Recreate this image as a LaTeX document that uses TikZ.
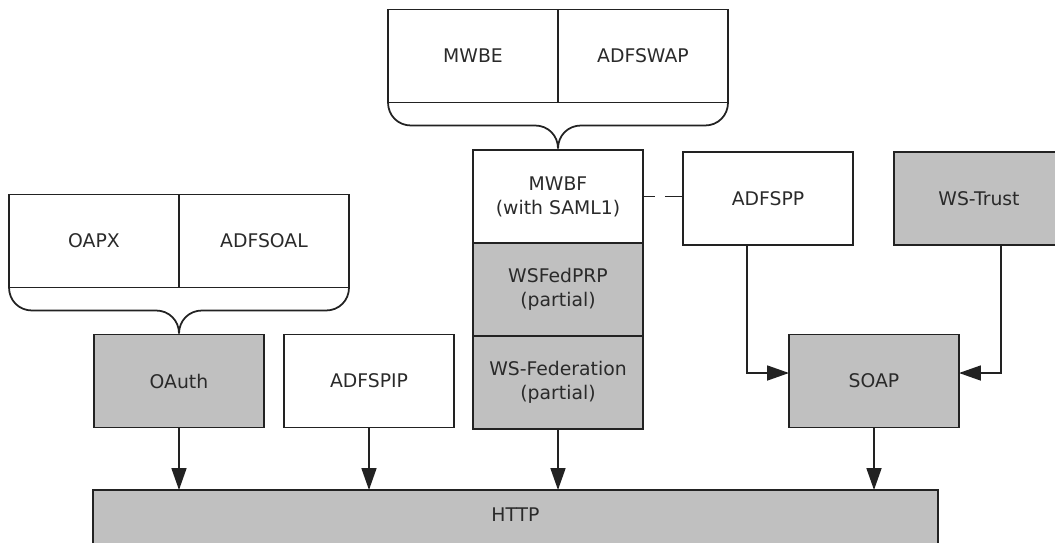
\documentclass[tikz,border=0pt]{standalone}
\usepackage{fontspec}
\setmainfont{DejaVu Sans}
\usepackage{tikz}
\usetikzlibrary{positioning, arrows.meta}
\usepackage{xcolor}

\definecolor{boxgray}{HTML}{C0C0C0}
\definecolor{linegray}{HTML}{222222}
\definecolor{textgray}{HTML}{2A2A2A}
\newcommand{\boxfont}{\fontsize{10.7pt}{13.6pt}\selectfont}

\tikzset{
	x=0.02cm, y=-0.02cm,
	>={Triangle[length=0.44cm, width=0.3cm]},
	box/.style={draw=linegray, line width=1pt, outer sep=0pt,
		minimum width=3.4cm, minimum height=1.86cm,
		align=center, text=textgray, font=\boxfont},
	shaded/.style={box, fill=boxgray},
	flow/.style={->, draw=linegray, line width=1pt},
	groupbrace/.style={draw=linegray, line width=1pt}}

\begin{document}
\begin{tikzpicture}

		\useasboundingbox (0,0) rectangle (1055,542);
		\clip (0,0) rectangle (1055,542);

		% extension groups
		\node[box] (oapx) at (94,241) {OAPX};
		\node[box, right=0pt of oapx] (adfsoal) {ADFSOAL};
		\node[box] (mwbe) at (473,56) {MWBE};
		\node[box, right=0pt of mwbe] (adfswap) {ADFSWAP};

		% protocol stack
		\node[box] (mwbf) at (558,196.5) {MWBF\\(with SAML1)};
		\node[shaded, below=0pt of mwbf] (wsfedprp) {WSFedPRP\\(partial)};
		\node[shaded, below=0pt of wsfedprp] (wsfed) {WS-Federation\\(partial)};
		\node[shaded] (oauth) at (179,381) {OAuth};
		\node[box] (adfspip) at (369,381) {ADFSPIP};
		\node[box] (adfspp) at (768,198.5) {ADFSPP};
		\node[shaded] (wstrust) at (979,198.5) {WS-Trust};
		\node[shaded] (soap) at (874,381) {SOAP};
		\node[shaded, anchor=north west, minimum width=16.9cm,
			minimum height=1.24cm, text depth=0.24cm] (http) at (93,490) {HTTP};

		% braces
		\path[groupbrace] (oapx.south west)
		.. controls +(0,13) and +(-13,0) .. ++(23,23) -- ++(124,0)
		.. controls +(13,0) and +(0,-13) .. ++(23,23)
		.. controls +(0,-13) and +(-13,0) .. ++(23,-23) -- ++(124,0)
		.. controls +(13,0) and +(0,13) .. ++(23,-23);
		\path[groupbrace] (mwbe.south west)
		.. controls +(0,13) and +(-13,0) .. ++(23,23) -- ++(124,0)
		.. controls +(13,0) and +(0,-13) .. ++(23,23)
		.. controls +(0,-13) and +(-13,0) .. ++(23,-23) -- ++(124,0)
		.. controls +(13,0) and +(0,13) .. ++(23,-23);

		% connectors
		\draw[draw=linegray, line width=1pt,
			dash pattern=on 0.24cm off 0.2cm on 0.4cm off 0.2cm]
		(mwbf.east) -- (mwbf.east -| adfspp.west);
		\draw[flow] ([xshift=-0.42cm]adfspp.south) |- ([yshift=0.16cm]soap.west);
		\draw[flow] ([xshift=0.44cm]wstrust.south) |- ([yshift=0.16cm]soap.east);
		\draw[flow] (oauth.south) -- (oauth.south |- http.north);
		\draw[flow] (adfspip.south) -- (adfspip.south |- http.north);
		\draw[flow] (wsfed.south) -- (wsfed.south |- http.north);
		\draw[flow] (soap.south) -- (soap.south |- http.north);

	\end{tikzpicture}
\end{document}
